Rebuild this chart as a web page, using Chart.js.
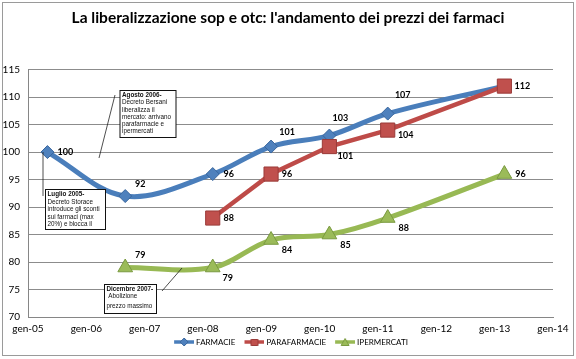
<!DOCTYPE html>
<html><head><meta charset="utf-8">
<script src="https://cdn.jsdelivr.net/npm/chart.js@4/dist/chart.umd.min.js"></script>
<style>html,body{margin:0;padding:0;background:#fff}#wrap{width:576px;height:359px;position:relative}</style>
</head><body><div id="wrap"><canvas id="c" width="576" height="359"></canvas></div>
<script>
// ---- data ----
const chartTitle = "La liberalizzazione sop e otc: l'andamento dei prezzi dei farmaci";
const seriesNames = ['FARMACIE', 'PARAFARMACIE', 'IPERMERCATI'];
const farmacieDates = ['mag-05', 'set-06', 'mar-08', 'mar-09', 'mar-10', 'mar-11', 'mar-13'];
const farmacieValues = [100, 92, 96, 101, 103, 107, 112];
const parafarmacieDates = ['mar-08', 'mar-09', 'mar-10', 'mar-11', 'mar-13'];
const parafarmacieValues = [88, 96, 101, 104, 112];
const ipermercatiDates = ['set-06', 'mar-08', 'mar-09', 'mar-10', 'mar-11', 'mar-13'];
const ipermercatiValues = [79, 79, 84, 85, 88, 96];
const xTickLabels = ['gen-05', 'gen-06', 'gen-07', 'gen-08', 'gen-09', 'gen-10', 'gen-11', 'gen-12', 'gen-13', 'gen-14'];
const yMin = 70, yMax = 115, yStep = 5;
const notes = [
  ['Agosto 2006-', 'Decreto Bersani', 'liberalizza il', 'mercato: arrivano', 'parafarmacie e', 'ipermercati'],
  ['Luglio 2005-', 'Decreto Storace', 'introduce gli sconti', 'sui farmaci (max', '20%) e blocca il'],
  ['Dicembre 2007-', ' Abolizione', 'prezzo massimo']
];

// ---- styles (label offsets / note boxes in pixels) ----
const labelOffsets = [
  [[18, 0], [15, -12], [16, 0], [16, -14], [11, -17], [15, -18], null],
  [[16, 0], [16, 0], [16, 10], [18, 5], [18, 0]],
  [[15, -12], [15, 11], [16, 10], [16, 11], [16, 10], [16, 0]]
];
const noteBoxes = [
  {x: 120, y: 90.5, w: 56, h: 47, lineY: [95, 102.5, 110, 117.5, 124.5, 131.5], line: [115, 95, 99, 158]},
  {x: 45.5, y: 189.5, w: 60, h: 40, lineY: [194.5, 202, 209.5, 217, 224], line: [43, 152, 43, 196]},
  {x: 104.5, y: 284.5, w: 52, h: 29, lineY: [289, 296.5, 306], line: [162, 291, 182, 268]}
];
const colors = {
  line: ['#4A7EBB', '#BE4B48', '#98B954'],
  fill: ['#4F81BD', '#C0504D', '#9BBB59'],
  edge: ['#3A679E', '#9A3B39', '#7A9A40']
};

const monthIdx = {gen:0, feb:1, mar:2, apr:3, mag:4, giu:5, lug:6, ago:7, set:8, ott:9, nov:10, dic:11};
function toMonths(s) { const [m, y] = s.split('-'); return (2000 + parseInt(y, 10) - 2005) * 12 + monthIdx[m]; }
function pts(dates, vals) { return dates.map((d, i) => ({x: toMonths(d), y: vals[i]})); }

// legend symbol: transparent margin on the left, then line with marker
function legendImg(i) {
  const c = document.createElement('canvas');
  c.width = 28; c.height = 12;
  const g = c.getContext('2d');
  g.strokeStyle = colors.line[i]; g.lineWidth = 3.5;
  g.beginPath(); g.moveTo(8, 6); g.lineTo(28, 6); g.stroke();
  g.fillStyle = colors.fill[i]; g.strokeStyle = colors.edge[i]; g.lineWidth = 1;
  g.beginPath();
  if (i === 0) { g.moveTo(18, 2); g.lineTo(22, 6); g.lineTo(18, 10); g.lineTo(14, 6); g.closePath(); }
  else if (i === 1) { g.rect(14.5, 3.5, 7, 6); }
  else { g.moveTo(18, 2.5); g.lineTo(22, 9.5); g.lineTo(14, 9.5); g.closePath(); }
  g.fill(); g.stroke();
  return c;
}

const dataLabels = {
  id: 'dataLabels',
  afterDatasetsDraw(chart) {
    const ctx = chart.ctx;
    ctx.save();
    ctx.font = 'bold 9px Lato';
    ctx.fillStyle = '#000';
    ctx.textAlign = 'center';
    ctx.textBaseline = 'middle';
    chart.data.datasets.forEach((ds, di) => {
      const meta = chart.getDatasetMeta(di);
      meta.data.forEach((el, i) => {
        const off = labelOffsets[di][i];
        if (!off) return;
        ctx.fillText(String(ds.data[i].y), el.x + off[0], el.y + off[1]);
      });
    });
    ctx.restore();
  }
};

const decorations = {
  id: 'decorations',
  beforeDraw(chart) {
    const ctx = chart.ctx;
    ctx.save();
    ctx.fillStyle = '#fff';
    ctx.fillRect(0, 0, chart.width, chart.height);
    ctx.strokeStyle = '#9a9a9a';
    ctx.lineWidth = 1;
    ctx.strokeRect(2.5, 2.5, 571, 353);
    ctx.restore();
  },
  afterDraw(chart) {
    const ctx = chart.ctx;
    ctx.save();
    noteBoxes.forEach((b, k) => {
      ctx.strokeStyle = '#222';
      ctx.lineWidth = 0.8;
      ctx.beginPath(); ctx.moveTo(b.line[0], b.line[1]); ctx.lineTo(b.line[2], b.line[3]); ctx.stroke();
      ctx.fillStyle = '#fff';
      ctx.fillRect(b.x, b.y, b.w, b.h);
      ctx.lineWidth = 1;
      ctx.strokeStyle = '#111';
      ctx.strokeRect(b.x, b.y, b.w, b.h);
      ctx.textAlign = 'left';
      ctx.textBaseline = 'middle';
      notes[k].forEach((t, j) => {
        ctx.font = (j === 0 ? 'bold ' : '') + '6.3px "Liberation Sans"';
        ctx.fillStyle = '#111';
        ctx.fillText(t, b.x + 2, b.lineY[j]);
      });
    });
    ctx.restore();
  }
};

const datasets = [
  {label: seriesNames[0], data: pts(farmacieDates, farmacieValues), borderColor: colors.line[0], borderWidth: 5,
   tension: 0.35, pointStyle: 'rectRot', pointRadius: 6.5, pointBackgroundColor: colors.fill[0],
   pointBorderColor: colors.edge[0], pointBorderWidth: 1, order: 3},
  {label: seriesNames[1], data: pts(parafarmacieDates, parafarmacieValues), borderColor: colors.line[1], borderWidth: 4.5,
   tension: 0, pointStyle: 'rect', pointRadius: 10, pointBackgroundColor: colors.fill[1],
   pointBorderColor: colors.edge[1], pointBorderWidth: 1, order: 2},
  {label: seriesNames[2], data: pts(ipermercatiDates, ipermercatiValues), borderColor: colors.line[2], borderWidth: 5,
   tension: 0.35, pointStyle: 'triangle', pointRadius: 8.5, pointBackgroundColor: colors.fill[2],
   pointBorderColor: colors.edge[2], pointBorderWidth: 1, order: 1}
];

new Chart(document.getElementById('c'), {
  type: 'line',
  data: {datasets},
  options: {
    responsive: false,
    animation: false,
    devicePixelRatio: 1,
    layout: {padding: {left: 0, right: 0, top: 0, bottom: 3}},
    plugins: {
      title: {display: true, text: chartTitle, color: '#000', font: {family: 'Lato', size: 15.5, weight: 'bold'},
              padding: {top: 9, bottom: 42}},
      legend: {
        position: 'bottom',
        labels: {
          usePointStyle: true, pointStyleWidth: 24, padding: 3, color: '#000',
          font: {family: 'Lato', size: 8},
          sort: (a, b) => a.datasetIndex - b.datasetIndex,
          generateLabels(chart) {
            return chart.data.datasets.map((ds, i) => ({
              text: ds.label, datasetIndex: i, pointStyle: legendImg(i), fillStyle: colors.fill[i],
              strokeStyle: colors.line[i], lineWidth: 0, hidden: false, fontColor: '#000'
            }));
          }
        }
      },
      tooltip: {enabled: false}
    },
    scales: {
      x: {
        type: 'linear', min: 0, max: 108,
        grid: {display: false, drawTicks: false},
        border: {display: true, color: '#868686', width: 1},
        ticks: {stepSize: 12, autoSkip: false, maxRotation: 0, padding: 6, color: '#000',
                font: {family: 'Lato', size: 10},
                callback: v => xTickLabels[Math.round(v / 12)]},
        afterFit: s => { s.height = 18; }
      },
      y: {
        min: yMin, max: yMax,
        grid: {color: '#8c8c8c', lineWidth: 1, drawTicks: false},
        border: {display: true, color: '#868686', width: 1},
        ticks: {stepSize: yStep, padding: 8, color: '#000', font: {family: 'Lato', size: 10}},
        afterFit: s => { s.width = 28; }
      },
      yRight: {
        position: 'right', min: yMin, max: yMax,
        grid: {display: false, drawTicks: false},
        border: {display: false},
        ticks: {display: false},
        afterFit: s => { s.width = 23; }
      }
    }
  },
  plugins: [decorations, dataLabels]
});
</script>
</body></html>
